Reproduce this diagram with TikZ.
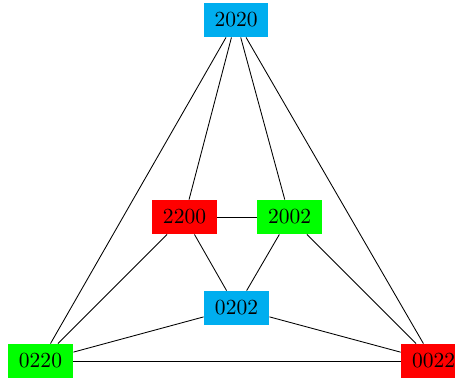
\documentclass[tikz,border=0pt]{standalone}
\definecolor{ncyan}{RGB}{0,174,239}
\definecolor{nred}{RGB}{255,0,0}
\definecolor{ngreen}{RGB}{0,255,0}
\tikzset{
  vbox/.style={rectangle, inner sep=0pt, minimum width=30.2pt, minimum height=15.8pt},
  vc/.style={vbox, fill=ncyan},
  vr/.style={vbox, fill=nred},
  vg/.style={vbox, fill=ngreen},
  edge/.style={draw=black, line width=0.4pt}
}
\begin{document}
\begin{tikzpicture}[x=0.465pt, y=-0.465pt]
\useasboundingbox (0,0) rectangle (455,380);
\node[vc] (a) at (236,20) {2020};
\node[vr] (b) at (184.5,217) {2200};
\node[vg] (c) at (289.5,217) {2002};
\node[vc] (d) at (236.5,308) {0202};
\node[vg] (e) at (40.5,361) {0220};
\node[vr] (f) at (433.5,361) {0022};
\draw[edge] (a) -- (b);
\draw[edge] (a) -- (c);
\draw[edge] (a) -- (e);
\draw[edge] (a) -- (f);
\draw[edge] (b) -- (c);
\draw[edge] (b) -- (d);
\draw[edge] (c) -- (d);
\draw[edge] (b) -- (e);
\draw[edge] (c) -- (f);
\draw[edge] (d) -- (e);
\draw[edge] (d) -- (f);
\draw[edge] (e) -- (f);
\end{tikzpicture}
\end{document}
